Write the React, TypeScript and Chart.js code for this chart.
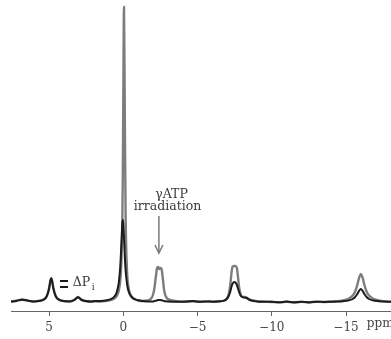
import React, { useEffect, useRef } from "react";
import { Chart, registerables } from "chart.js";

Chart.register(...registerables);

// chemical shift (ppm), descending
const ppm = [
  7.6, 7.2, 6.8, 6.4, 6.0, 5.8, 5.5, 5.3, 5.15, 5.0,
  4.9, 4.85, 4.8, 4.7, 4.55, 4.4, 4.2, 3.9, 3.6, 3.3,
  3.15, 3.05, 2.95, 2.8, 2.5, 2.2, 1.9, 1.5, 1.2, 0.9,
  0.6, 0.45, 0.3, 0.2, 0.12, 0.06, 0.03, 0, -0.05, -0.1,
  -0.16, -0.25, -0.35, -0.5, -0.7, -1.0, -1.3, -1.6, -1.85, -2.0,
  -2.1, -2.2, -2.28, -2.35, -2.42, -2.5, -2.58, -2.66, -2.75, -2.85,
  -3.0, -3.3, -3.7, -4.2, -4.7, -5.2, -5.7, -6.0, -6.4, -6.8,
  -7.0, -7.1, -7.2, -7.28, -7.35, -7.45, -7.55, -7.65, -7.72, -7.8,
  -7.9, -8.0, -8.15, -8.3, -8.45, -8.7, -9.0, -9.5, -10.0, -10.5,
  -11.0, -11.5, -12.0, -12.5, -13.0, -13.5, -14.0, -14.4, -14.8, -15.2,
  -15.45, -15.6, -15.75, -15.9, -16.0, -16.1, -16.25, -16.4, -16.55, -16.8,
  -17.2, -17.6, -18.1,
];

// control spectrum (grey)
const controlSpectrum = [
  0.5, 1.3, 2.5, 1.4, 0.6, 0.9, 1.6, 3, 6, 13.5,
  22, 24, 22, 13.5, 6, 3, 1.6, 0.8, 0.7, 2.1,
  4, 5, 4, 2.1, 0.8, 0.3, 0.6, 0.5, 1, 1.7,
  3.5, 5.8, 11.5, 21.5, 43, 85, 128, 195, 295, 195,
  85, 32, 15, 7, 3.4, 1.5, 1, 1.5, 3, 7,
  14, 26, 34, 35, 33, 34, 33, 24, 12, 6,
  3, 1.5, 0.6, 0.3, 0.8, 0.2, 0.6, 0.4, 0.7, 1.5,
  4, 8, 16, 28, 35, 36, 36, 34, 26, 15,
  8, 5.5, 5, 4.5, 3, 1.5, 0.8, 0.4, 0, -0.4,
  0.2, -0.5, 0.1, -0.3, 0.3, 0, 0.4, 0.6, 1.6, 3.5,
  6.4, 10, 16.5, 25.2, 28, 25.2, 16.5, 10, 6.4, 3.5,
  1.6, 0.6, 0.3,
];

// gammaATP-irradiated spectrum (black)
const irradiatedSpectrum = [
  0.4, 1.1, 2.3, 1.2, 0.5, 0.8, 1.5, 2.9, 5.8, 13,
  21.5, 23.5, 21.5, 13, 5.8, 2.9, 1.5, 0.7, 0.6, 2,
  3.8, 4.8, 3.8, 2, 0.9, 0.5, 0.9, 1, 1.5, 2.6,
  5.3, 9.3, 19.3, 36, 60, 79, 82, 79, 64, 47,
  31.5, 18.3, 11, 6.1, 3.3, 1.7, 1, 0.6, 0.5, 0.6,
  1, 1.3, 1.7, 2, 2.1, 2, 1.8, 1.4, 1, 0.7,
  0.5, 0.3, 0.2, 0.4, 0.9, 0.3, 0.5, 0.3, 0.6, 1.4,
  3.5, 6, 10, 15, 18, 20, 19.5, 17, 14, 10,
  6.5, 5, 4.5, 4, 2.5, 1.2, 0.6, 0.3, 0.2, -0.3,
  0.4, -0.2, 0.3, -0.4, 0.2, 0.1, 0.3, 0.5, 0.8, 1.6,
  3, 4.7, 7.7, 11.7, 13, 11.7, 7.7, 4.7, 3, 1.6,
  0.8, 0.4, 0.2,
];

const tickValues = [5, 0, -5, -10, -15];
const tickLabels = ["5", "0", "−5", "−10", "−15"];
const axisUnit = "ppm";
const irradiationLabel = ["γATP", "irradiation"];
const deltaLabel = "ΔP";
const deltaSub = "i";

const FONT = "'DejaVu Serif', 'Liberation Serif', serif";

export default function App() {
  const ref = useRef<HTMLCanvasElement>(null);

  useEffect(() => {
    const canvas = ref.current;
    if (!canvas) return;

    const annotations = {
      id: "annotations",
      afterDraw(chart: any) {
        const { ctx } = chart;
        const x = chart.scales.x;
        const y = chart.scales.y;
        ctx.save();

        // irradiation arrow
        const ax = x.getPixelForValue(-2.4);
        const ay1 = y.getPixelForValue(86);
        const ay2 = y.getPixelForValue(49);
        ctx.strokeStyle = "#7a7a7a";
        ctx.lineWidth = 1.5;
        ctx.beginPath();
        ctx.moveTo(ax, ay1);
        ctx.lineTo(ax, ay2);
        ctx.stroke();
        ctx.beginPath();
        ctx.moveTo(ax - 4, ay2 - 8);
        ctx.lineTo(ax, ay2);
        ctx.lineTo(ax + 4, ay2 - 8);
        ctx.stroke();

        ctx.fillStyle = "#3a3a3a";
        ctx.font = `12.5px ${FONT}`;
        ctx.textAlign = "center";
        ctx.textBaseline = "middle";
        ctx.fillText(irradiationLabel[0], x.getPixelForValue(-3.25), y.getPixelForValue(107));
        ctx.fillText(irradiationLabel[1], x.getPixelForValue(-2.98), y.getPixelForValue(95));

        // delta Pi marker
        ctx.strokeStyle = "#1a1a1a";
        ctx.lineWidth = 2;
        const bx1 = x.getPixelForValue(4.26);
        const bx2 = x.getPixelForValue(3.72);
        [21.3, 15.3].forEach((v) => {
          const yy = Math.round(y.getPixelForValue(v));
          ctx.beginPath();
          ctx.moveTo(bx1, yy);
          ctx.lineTo(bx2, yy);
          ctx.stroke();
        });
        ctx.textAlign = "left";
        ctx.font = `12.5px ${FONT}`;
        const tx = x.getPixelForValue(3.4);
        ctx.fillText(deltaLabel, tx, y.getPixelForValue(19));
        const w = ctx.measureText(deltaLabel).width;
        ctx.font = `9px ${FONT}`;
        ctx.fillText(deltaSub, tx + w + 1.5, y.getPixelForValue(14.5));

        // axis unit
        ctx.font = `12px ${FONT}`;
        ctx.fillStyle = "#444";
        ctx.textBaseline = "middle";
        ctx.fillText(axisUnit, x.getPixelForValue(-16.4), 324);
        ctx.restore();
      },
    };

    const chart = new Chart(canvas, {
      type: "line",
      data: {
        datasets: [
          {
            label: "γATP irradiation",
            data: ppm.map((p, i) => ({ x: p, y: irradiatedSpectrum[i] })),
            borderColor: "#1c1c1c",
            borderWidth: 2,
            pointRadius: 0,
            cubicInterpolationMode: "monotone",
            order: 1,
          },
          {
            label: "control",
            data: ppm.map((p, i) => ({ x: p, y: controlSpectrum[i] })),
            borderColor: "#7d7d7d",
            borderWidth: 2.4,
            pointRadius: 0,
            cubicInterpolationMode: "monotone",
            order: 2,
          },
        ],
      },
      options: {
        animation: false,
        responsive: false,
        devicePixelRatio: 1,
        layout: { padding: { left: 11, right: 0, top: 0, bottom: 0 } },
        plugins: { legend: { display: false }, tooltip: { enabled: false } },
        scales: {
          x: {
            type: "linear",
            reverse: true,
            min: -18.03,
            max: 7.56,
            afterBuildTicks: (s: any) => {
              s.ticks = tickValues.map((v) => ({ value: v }));
            },
            afterFit: (s: any) => {
              s.height = 28;
            },
            grid: {
              drawOnChartArea: false,
              drawTicks: true,
              tickLength: 5,
              tickColor: "#666",
              tickWidth: 1,
            },
            border: { display: true, color: "#666", width: 1 },
            ticks: {
              font: { family: FONT, size: 12 },
              color: "#444",
              padding: 5,
              maxRotation: 0,
              autoSkip: false,
              callback: (v: any) => {
                const i = tickValues.indexOf(Number(v));
                return i >= 0 ? tickLabels[i] : "";
              },
            },
          },
          y: { display: false, min: -9, max: 302 },
        },
      },
      plugins: [annotations],
    } as any);

    return () => chart.destroy();
  }, []);

  return (
    <div style={{ position: "fixed", left: 0, top: 0, width: 391, height: 339, background: "#fff", overflow: "hidden" }}>
      <canvas ref={ref} width={391} height={339} style={{ width: 391, height: 339, display: "block" }} />
    </div>
  );
}
